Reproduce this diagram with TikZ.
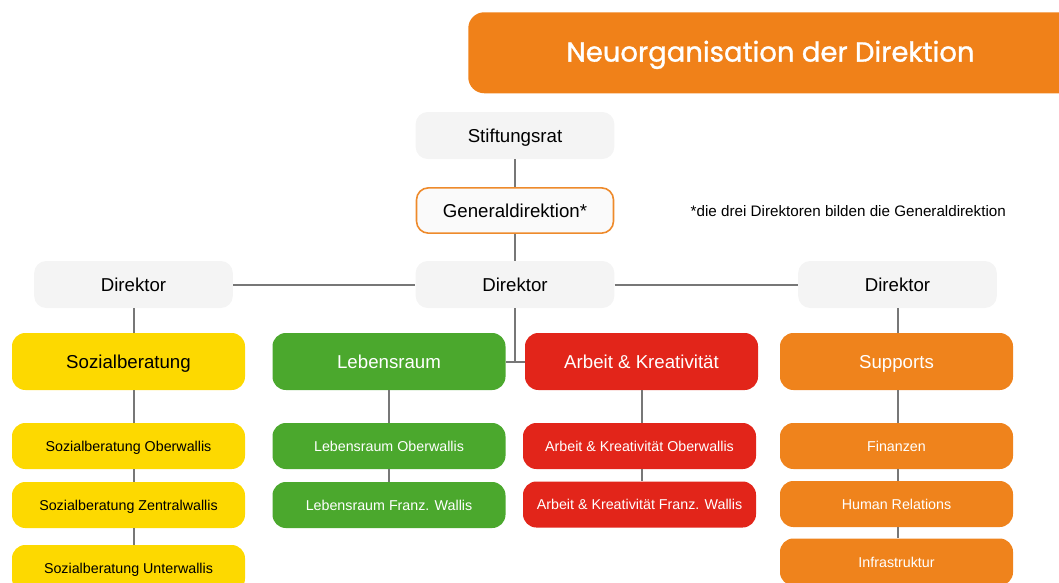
\documentclass[tikz,border=0pt]{standalone}
\usepackage{fontspec}
\setmainfont{Liberation Sans}
\newfontfamily\titlefont[FakeBold=1.2]{Poppins}
\definecolor{greybox}{HTML}{F4F4F4}
\definecolor{gdborder}{HTML}{EE8A2B}
\definecolor{gdfill}{HTML}{FAFAFA}
\definecolor{yel}{HTML}{FDD900}
\definecolor{grn}{HTML}{4BA82D}
\definecolor{rd}{HTML}{E2251A}
\definecolor{org}{HTML}{EF831C}
\definecolor{ttl}{HTML}{F08119}
\definecolor{ln}{HTML}{777777}
\tikzset{
  greyb/.style={fill=greybox, rounded corners=9pt, minimum width=149pt, minimum height=35.25pt, inner sep=0pt, font=\fontsize{14}{16}\selectfont, text height=10pt, text depth=0pt},
  mainb/.style={rounded corners=10pt, minimum width=174.75pt, minimum height=42.75pt, inner sep=0pt, font=\fontsize{14}{16}\selectfont, text height=10pt, text depth=0pt},
  subb/.style={rounded corners=10pt, minimum width=174.75pt, minimum height=34.5pt, inner sep=0pt, font=\fontsize{10.7}{12}\selectfont, text height=7.7pt, text depth=0pt},
  conn/.style={draw=ln, line width=1.5pt},
}
\begin{document}
\begin{tikzpicture}[x=0.75pt,y=-0.75pt]
\useasboundingbox (0,0) rectangle (1059,582);
\clip (0,0) rectangle (1059,582);
% title
\node[fill=ttl, rounded corners=12pt, minimum width=480pt, minimum height=60.75pt, anchor=north west, inner sep=0pt] (titlebox) at (468,12) {};
\node[text=white, font=\titlefont\fontsize{20.6}{23}\selectfont, text height=14.4pt, text depth=0pt] (title) at (770.5,52) {Neuorganisation der Direktion};
% top
\node[greyb] (stift) at (515,135.5) {Stiftungsrat};
\node[greyb, fill=gdfill, draw=gdborder, line width=1.2pt, minimum width=147.75pt, minimum height=34pt] (gd) at (515,210.5) {Generaldirektion*};
\node[anchor=west, font=\fontsize{11.4}{13}\selectfont] (note) at (686,211) {*die drei Direktoren bilden die Generaldirektion};
\node[greyb] (dl) at (133.5,284.5) {Direktor};
\node[greyb] (dm) at (515,284.5) {Direktor};
\node[greyb] (dr) at (897.5,284.5) {Direktor};
% main
\node[mainb, fill=yel] (soz) at (128.5,361.5) {Sozialberatung};
\node[mainb, fill=grn, text=white] (leb) at (389,361.5) {Lebensraum};
\node[mainb, fill=rd, text=white] (arb) at (641.5,361.5) {Arbeit \& Kreativität};
\node[mainb, fill=org, text=white] (sup) at (896.5,361.5) {Supports};
% subs
\node[subb, fill=yel] (s1) at (128.5,446) {Sozialberatung Oberwallis};
\node[subb, fill=yel] (s2) at (128.5,505) {Sozialberatung Zentralwallis};
\node[subb, fill=yel, minimum height=35.25pt] (s3) at (128.5,568.5) {Sozialberatung Unterwallis};
\node[subb, fill=grn, text=white] (l1) at (389,446) {Lebensraum Oberwallis};
\node[subb, fill=grn, text=white] (l2) at (389,505) {Lebensraum Franz. Wallis};
\node[subb, fill=rd, text=white] (a1) at (639.5,446) {Arbeit \& Kreativität Oberwallis};
\node[subb, fill=rd, text=white] (a2) at (639.5,504.5) {Arbeit \& Kreativität Franz. Wallis};
\node[subb, fill=org, text=white] (f1) at (896.5,446) {Finanzen};
\node[subb, fill=org, text=white] (f2) at (896.5,504) {Human Relations};
\node[subb, fill=org, text=white, minimum height=35.25pt] (f3) at (896.5,562) {Infrastruktur};
% connectors
\draw[conn] (stift) -- (gd);
\draw[conn] (gd) -- (dm);
\draw[conn] (dl) -- (dm);
\draw[conn] (dm) -- (dr);
\draw[conn] (dm.south) |- (leb.east);
\draw[conn] (dm.south) |- (arb.west);
\draw[conn] (dl.south) -- (dl.south |- soz.north);
\draw[conn] (dr.south) -- (dr.south |- sup.north);
\draw[conn] (soz.south -| dl.south) -- (s1.north -| dl.south);
\draw[conn] (s1.south -| dl.south) -- (s2.north -| dl.south);
\draw[conn] (s2.south -| dl.south) -- (s3.north -| dl.south);
\draw[conn] (leb) -- (l1);
\draw[conn] (l1) -- (l2);
\draw[conn] (arb.south) -- (arb.south |- a1.north);
\draw[conn] (a1.south -| arb.south) -- (a2.north -| arb.south);
\draw[conn] (sup.south -| dr.south) -- (f1.north -| dr.south);
\draw[conn] (f1.south -| dr.south) -- (f2.north -| dr.south);
\draw[conn] (f2.south -| dr.south) -- (f3.north -| dr.south);
\end{tikzpicture}
\end{document}
